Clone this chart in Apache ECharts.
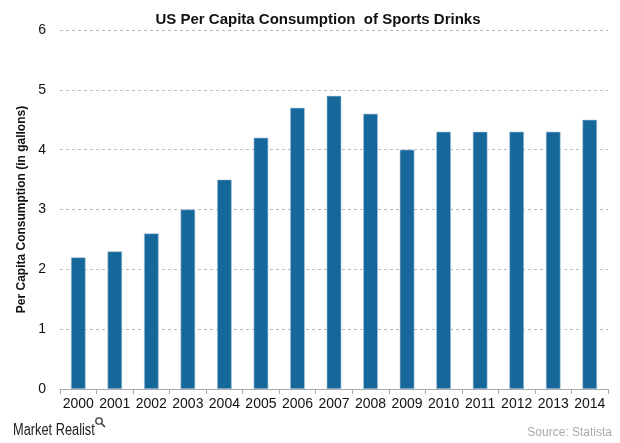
<!DOCTYPE html>
<html><head><meta charset="utf-8">
<script src="https://cdn.jsdelivr.net/npm/echarts@6/dist/echarts.min.js"></script>
<style>html,body{margin:0;padding:0;background:#fff}#c{width:620px;height:443px}</style>
</head><body><div id="c"></div>
<script>
const categories = ['2000','2001','2002','2003','2004','2005','2006','2007','2008','2009','2010','2011','2012','2013','2014'];
const values = [2.2, 2.3, 2.6, 3.0, 3.5, 4.2, 4.7, 4.9, 4.6, 4.0, 4.3, 4.3, 4.3, 4.3, 4.5];
const chart = echarts.init(document.getElementById('c'));
const F = 'Liberation Sans, Arial, sans-serif';
chart.setOption({
  animation: false,
  title: {
    text: 'US Per Capita Consumption  of Sports Drinks',
    left: 313, top: 7, textAlign: 'center',
    textStyle: {fontFamily: F, fontSize: 15, fontWeight: 'bold', color: '#111'}
  },
  graphic: [
    {type: 'text', x: 13, y: 423, scaleX: 0.8, style: {text: 'Market Realist', font: '16px ' + F, fill: '#222'}},
    {type: 'circle', shape: {cx: 99, cy: 421, r: 3.2}, style: {fill: 'none', stroke: '#333', lineWidth: 1.3}},
    {type: 'line', shape: {x1: 101.5, y1: 423.5, x2: 105, y2: 427}, style: {stroke: '#333', lineWidth: 1.5}},
    {type: 'text', right: 8, top: 427, style: {text: 'Source: Statista', font: '12px ' + F, fill: '#aaa'}}
  ],
  grid: {left: 60, right: 12, top: 30, bottom: 54},
  xAxis: {
    type: 'category', data: categories,
    axisLine: {lineStyle: {color: '#aaa'}},
    axisTick: {show: true, lineStyle: {color: '#aaa'}, length: 5},
    axisLabel: {fontFamily: F, fontSize: 14, color: '#111', margin: 8, interval: 0}
  },
  yAxis: {
    type: 'value', min: 0, max: 6, interval: 1,
    name: 'Per Capita Consumption (in gallons)', nameLocation: 'middle', nameGap: 32,
    nameTextStyle: {fontFamily: F, fontSize: 12, fontWeight: 'bold', color: '#111'},
    axisLine: {show: false}, axisTick: {show: false},
    axisLabel: {fontFamily: F, fontSize: 14, color: '#111', margin: 14},
    splitLine: {lineStyle: {color: '#bbb', type: [3, 3]}}
  },
  series: [{
    type: 'bar', data: values, barWidth: '40%',
    itemStyle: {color: '#16679a', borderColor: '#a9c6db', borderWidth: 0.6}
  }]
});
</script></body></html>
